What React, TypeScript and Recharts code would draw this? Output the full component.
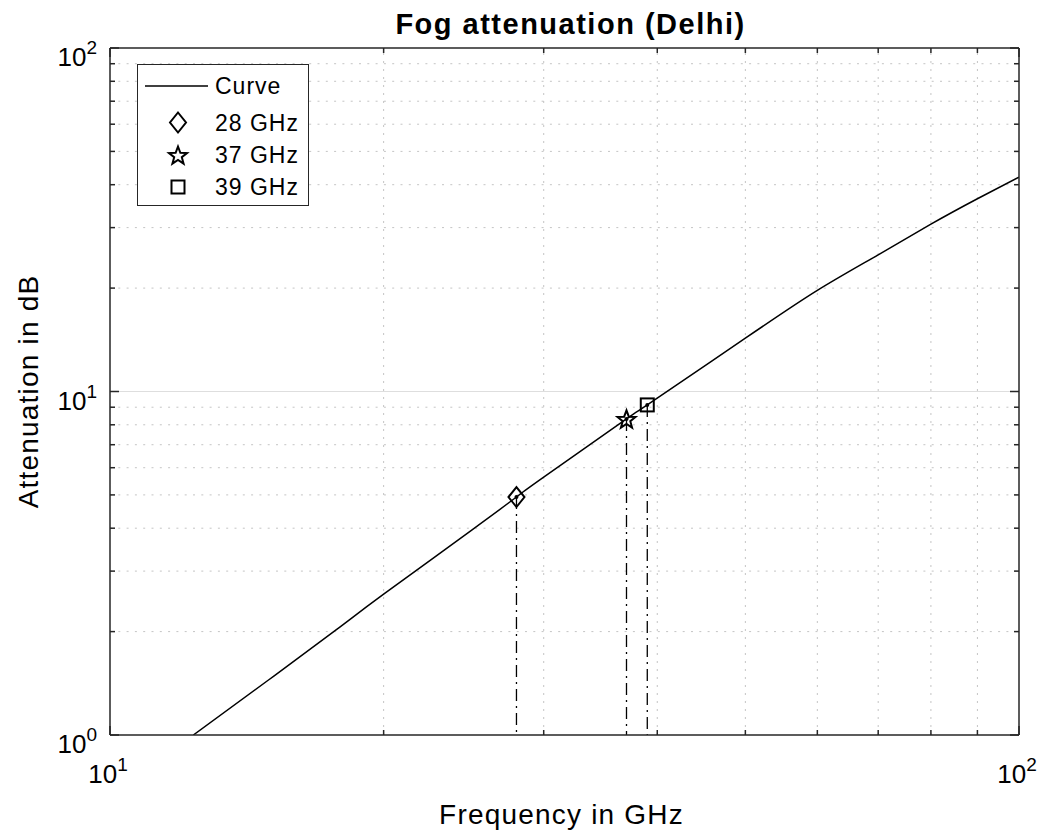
import React from 'react'
import { ComposedChart, Line, Scatter, XAxis, YAxis, ReferenceLine, Label } from 'recharts'

// curve (GHz -> dB)
const frequencyGHz = [12.35, 14.94, 17.76, 20, 25, 28, 30, 37, 39, 50, 60, 70, 80, 90, 100]
const attenuationDb = [1.0, 1.446, 2.03, 2.57, 3.95, 4.93, 5.63, 8.32, 9.14, 14.3, 19.7, 25.0, 30.7, 36.4, 42.1]

const markerNames = ['28 GHz', '37 GHz', '39 GHz']
const markerFreq = [28, 37, 39]
const markerAtten = [4.93, 8.32, 9.14]

const xTicks = [10, 20, 30, 40, 50, 60, 70, 80, 90, 100]
const yTicks = [1, 2, 3, 4, 5, 6, 7, 8, 9, 10, 20, 30, 40, 50, 60, 70, 80, 90, 100]
const xMinorGrid = [20, 30, 40, 50, 60, 70, 80, 90]
const yMinorGrid = [2, 3, 4, 5, 6, 7, 8, 9, 20, 30, 40, 50, 60, 70, 80, 90]
const yMajorGrid = [10]

const curveData = frequencyGHz.map((f, i) => ({ f, a: attenuationDb[i] }))

const FONT = '"Liberation Sans", Arial, Helvetica, sans-serif'
const AXIS = '#262626'
const MINOR = '#c4c4c4'
const MAJOR = '#dedede'

const isDecade = (v: number) => Math.abs(Math.log10(v) - Math.round(Math.log10(v))) < 1e-9

function Pow({ x, y, exp, anchor }: { x: number; y: number; exp: number; anchor: string }) {
  return (
    <text x={x} y={y} textAnchor={anchor} fontFamily={FONT} fontSize={26} fill="#000">
      10
      <tspan dy={-12} fontSize={19}>
        {exp}
      </tspan>
    </text>
  )
}

function BottomTick(props: any) {
  const { x, y, payload } = props
  const v = payload.value
  const major = isDecade(v)
  return (
    <g>
      <line x1={x} y1={y} x2={x} y2={y - (major ? 9 : 5)} stroke={AXIS} strokeWidth={1.5} />
      {major && <Pow x={x - 2} y={y + 48} exp={Math.round(Math.log10(v))} anchor="middle" />}
    </g>
  )
}

function TopTick(props: any) {
  const { x, y, payload } = props
  const major = isDecade(payload.value)
  return <line x1={x} y1={y} x2={x} y2={y + (major ? 9 : 5)} stroke={AXIS} strokeWidth={1.5} />
}

function LeftTick(props: any) {
  const { x, y, payload } = props
  const v = payload.value
  const major = isDecade(v)
  return (
    <g>
      <line x1={x} y1={y} x2={x + (major ? 9 : 5)} y2={y} stroke={AXIS} strokeWidth={1.5} />
      {major && <Pow x={x - 13} y={y + 18} exp={Math.round(Math.log10(v))} anchor="end" />}
    </g>
  )
}

function RightTick(props: any) {
  const { x, y, payload } = props
  const major = isDecade(payload.value)
  return <line x1={x} y1={y} x2={x - (major ? 9 : 5)} y2={y} stroke={AXIS} strokeWidth={1.5} />
}

function Diamond({ cx, cy, dot }: any) {
  return (
    <g>
      <polygon
        points={`${cx},${cy - 10} ${cx + 8},${cy} ${cx},${cy + 10} ${cx - 8},${cy}`}
        fill="none"
        stroke="#000"
        strokeWidth={2}
      />
      {dot && <circle cx={cx} cy={cy} r={2} fill="#000" />}
    </g>
  )
}

function Star({ cx, cy, dot }: any) {
  const pts: string[] = []
  for (let k = 0; k < 10; k++) {
    const r = k % 2 === 0 ? 9.5 : 4
    const ang = -Math.PI / 2 + (k * Math.PI) / 5
    pts.push(`${cx + r * Math.cos(ang)},${cy + r * Math.sin(ang) + 1}`)
  }
  return (
    <g>
      <polygon points={pts.join(' ')} fill="none" stroke="#000" strokeWidth={2} />
      {dot && <circle cx={cx} cy={cy} r={2} fill="#000" />}
    </g>
  )
}

function Square({ cx, cy, dot }: any) {
  return (
    <g>
      <rect x={cx - 6.5} y={cy - 6.5} width={13} height={13} fill="none" stroke="#000" strokeWidth={2} />
      {dot && <circle cx={cx} cy={cy} r={2} fill="#000" />}
    </g>
  )
}

const markerShapes = [Diamond, Star, Square]

function LegendBox() {
  const rows = [57.5, 90, 122]
  return (
    <div
      style={{
        position: 'absolute',
        left: 137,
        top: 64,
        width: 172,
        height: 142,
        boxSizing: 'border-box',
        border: `1.5px solid ${AXIS}`,
        background: '#fff',
      }}
    >
      <svg width={170} height={140} style={{ display: 'block' }}>
        <line x1={7} y1={21} x2={70} y2={21} stroke="#000" strokeWidth={1.5} />
        <text x={77} y={29} fontFamily={FONT} fontSize={23} letterSpacing={1} fill="#000">
          Curve
        </text>
        {markerNames.map((name, i) => {
          const Shape = markerShapes[i]
          return (
            <g key={name}>
              <Shape cx={40} cy={rows[i]} dot={false} />
              <text x={77} y={rows[i] + 8} fontFamily={FONT} fontSize={23} letterSpacing={1} fill="#000">
                {name}
              </text>
            </g>
          )
        })}
      </svg>
    </div>
  )
}

export default function App() {
  return (
    <div style={{ position: 'absolute', left: 0, top: 0, width: 1047, height: 834, background: '#fff' }}>
      <ComposedChart width={1047} height={834} margin={{ top: 0, right: 0, bottom: 0, left: 0 }}>
        <XAxis
          xAxisId="b"
          type="number"
          dataKey="f"
          scale="log"
          domain={[10, 100]}
          ticks={xTicks}
          interval={0}
          allowDataOverflow
          orientation="bottom"
          height={99}
          tickSize={0}
          tickMargin={0}
          tickLine={false}
          axisLine={{ stroke: AXIS, strokeWidth: 1.5 }}
          tick={<BottomTick />}
        >
          <Label
            content={({ viewBox }: any) => (
              <text
                x={viewBox.x + viewBox.width / 2 - 3}
                y={824}
                textAnchor="middle"
                fontFamily={FONT}
                fontSize={28}
                letterSpacing={1.2}
                fill="#000"
              >
                Frequency in GHz
              </text>
            )}
          />
        </XAxis>
        <XAxis
          xAxisId="t"
          type="number"
          dataKey="f"
          scale="log"
          domain={[10, 100]}
          ticks={xTicks}
          interval={0}
          allowDataOverflow
          orientation="top"
          height={48}
          tickSize={0}
          tickMargin={0}
          tickLine={false}
          axisLine={{ stroke: AXIS, strokeWidth: 1.5 }}
          tick={<TopTick />}
        >
          <Label
            content={({ viewBox }: any) => (
              <text
                x={viewBox.x + viewBox.width / 2 + 6}
                y={34}
                textAnchor="middle"
                fontFamily={FONT}
                fontSize={29}
                letterSpacing={1.5}
                fontWeight="bold"
                fill="#000"
              >
                Fog attenuation (Delhi)
              </text>
            )}
          />
        </XAxis>
        <YAxis
          yAxisId="l"
          type="number"
          scale="log"
          domain={[1, 100]}
          ticks={yTicks}
          interval={0}
          allowDataOverflow
          width={110}
          tickSize={0}
          tickMargin={0}
          tickLine={false}
          axisLine={{ stroke: AXIS, strokeWidth: 1.5 }}
          tick={<LeftTick />}
        >
          <Label
            content={({ viewBox }: any) => {
              const cy = viewBox.y + viewBox.height / 2
              return (
                <text
                  x={38}
                  y={cy}
                  transform={`rotate(-90, 38, ${cy})`}
                  textAnchor="middle"
                  fontFamily={FONT}
                  fontSize={28}
                  letterSpacing={1.2}
                  fill="#000"
                >
                  Attenuation in dB
                </text>
              )
            }}
          />
        </YAxis>
        <YAxis
          yAxisId="r"
          orientation="right"
          type="number"
          scale="log"
          domain={[1, 100]}
          ticks={yTicks}
          interval={0}
          allowDataOverflow
          width={28}
          tickSize={0}
          tickMargin={0}
          tickLine={false}
          axisLine={{ stroke: AXIS, strokeWidth: 1.5 }}
          tick={<RightTick />}
        />

        {xMinorGrid.map((v) => (
          <ReferenceLine key={`gx${v}`} xAxisId="b" yAxisId="l" x={v} stroke={MINOR} strokeDasharray="2 6" />
        ))}
        {yMinorGrid.map((v) => (
          <ReferenceLine key={`gy${v}`} xAxisId="b" yAxisId="l" y={v} stroke={MINOR} strokeDasharray="2 6.3" />
        ))}
        {yMajorGrid.map((v) => (
          <ReferenceLine key={`gm${v}`} xAxisId="b" yAxisId="l" y={v} stroke={MAJOR} strokeWidth={1.2} />
        ))}

        {markerFreq.map((f, i) => (
          <ReferenceLine
            key={`drop${f}`}
            xAxisId="b"
            yAxisId="l"
            segment={[
              { x: f, y: markerAtten[i] },
              { x: f, y: 1 },
            ]}
            stroke="#000"
            strokeWidth={1.3}
            strokeDasharray="12 5 2 5"
          />
        ))}

        <Line
          xAxisId="b"
          yAxisId="l"
          data={curveData}
          dataKey="a"
          type="natural"
          dot={false}
          stroke="#000"
          strokeWidth={1.5}
          isAnimationActive={false}
        />
        {markerFreq.map((f, i) => {
          const Shape = markerShapes[i]
          return (
            <Scatter
              key={`pt${f}`}
              xAxisId="b"
              yAxisId="l"
              name={markerNames[i]}
              data={[{ f, a: markerAtten[i] }]}
              dataKey="a"
              shape={(p: any) => <Shape cx={p.cx} cy={p.cy} dot />}
              isAnimationActive={false}
            />
          )
        })}
      </ComposedChart>
      <LegendBox />
    </div>
  )
}
